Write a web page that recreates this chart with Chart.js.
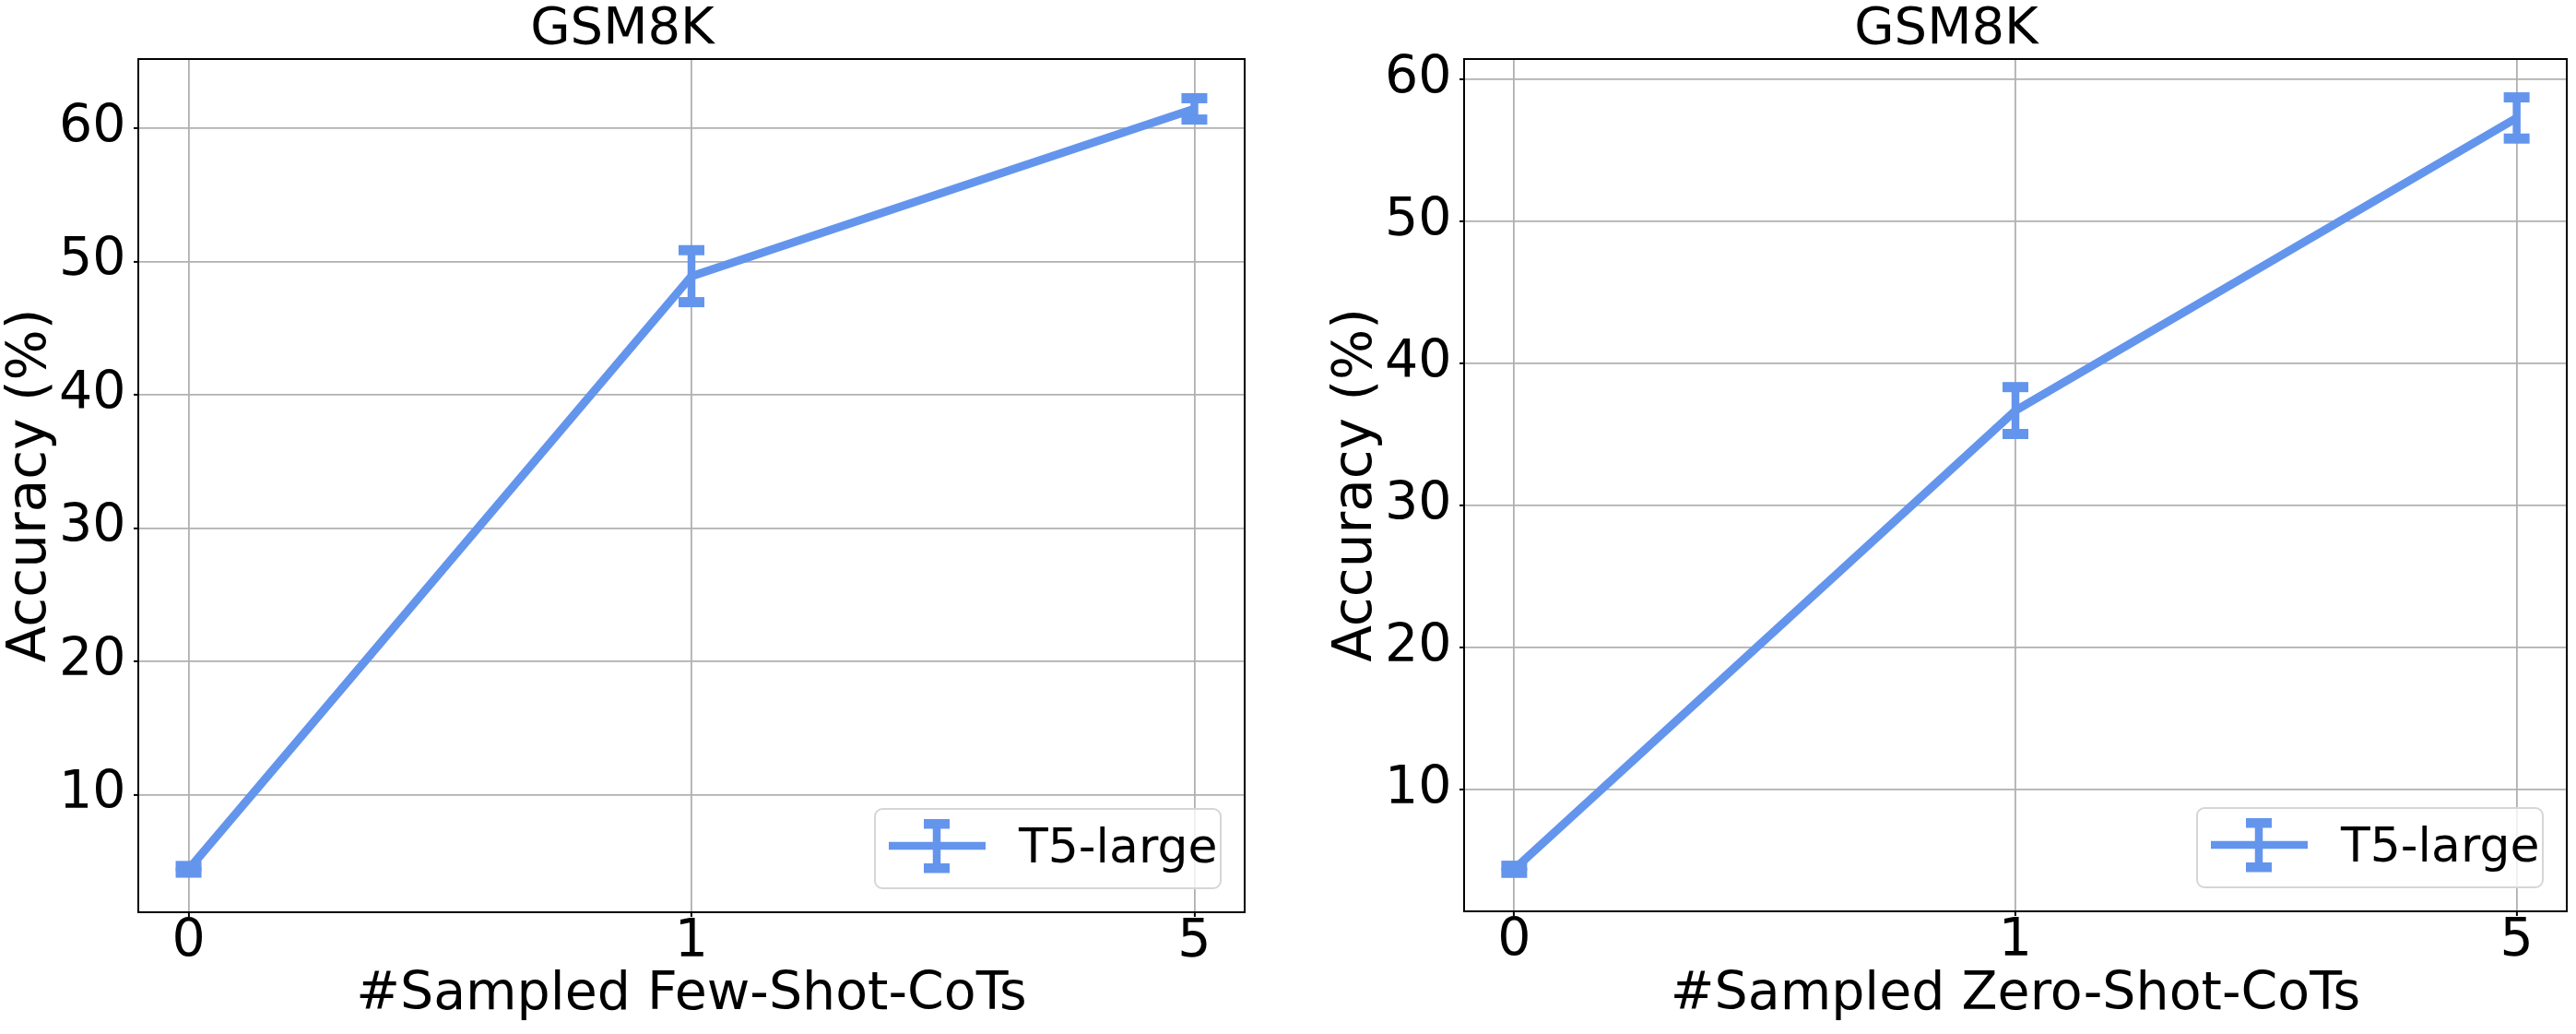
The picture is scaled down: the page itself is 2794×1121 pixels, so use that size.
<!DOCTYPE html>
<html>
<head>
<meta charset="utf-8">
<script src="https://cdn.jsdelivr.net/npm/chart.js@4"></script>
<style>
  html, body { margin: 0; padding: 0; background: #fff; overflow: hidden; width: 2794px; height: 1121px; }
  canvas { position: absolute; top: 0; }
  #left { left: 0; }
  #right { left: 1438px; }
</style>
</head>
<body>
<canvas id="left" width="1500" height="1121" style="width:1500px;height:1121px"></canvas>
<canvas id="right" width="1496" height="1121" style="width:1496px;height:1121px"></canvas>
<script>
// data
const xLabels = ['0', '1', '5'];
const yTicks = [10, 20, 30, 40, 50, 60];
const seriesName = 'T5-large';
const fewShotAcc = [4.4, 48.9, 61.45];
const fewShotErr = [0.25, 1.95, 0.8];
const zeroShotAcc = [4.4, 36.7, 57.3];
const zeroShotErr = [0.25, 1.65, 1.45];

const BLUE = '#6495ED';
const FONT = 'DejaVu Sans';

// error bars + frame + legend, all placed through the chart's scales
const extras = {
    id: 'extras',
    afterDatasetsDraw(chart) {
        const ctx = chart.ctx;
        const xs = chart.scales.x, ys = chart.scales.y;
        chart.data.datasets.forEach(ds => {
            ds.data.forEach((p, i) => {
                const e = ds.errors[i];
                const px = xs.getPixelForValue(p.x);
                const top = ys.getPixelForValue(p.y + e);
                const bot = ys.getPixelForValue(p.y - e);
                ctx.save();
                ctx.strokeStyle = ds.borderColor;
                ctx.fillStyle = ds.borderColor;
                ctx.lineWidth = 8.5;
                ctx.beginPath();
                ctx.moveTo(px, top);
                ctx.lineTo(px, bot);
                ctx.stroke();
                ctx.fillRect(px - 14, top - 5.5, 28, 11);
                ctx.fillRect(px - 14, bot - 5.5, 28, 11);
                ctx.restore();
            });
        });
    },
    afterDraw(chart) {
        const ctx = chart.ctx;
        const a = chart.chartArea;
        ctx.save();
        ctx.strokeStyle = '#000';
        ctx.lineWidth = 2;
        ctx.strokeRect(a.left, a.top, a.right - a.left, a.bottom - a.top);

        // legend, lower right
        const w = 375, h = 86;
        const lx = a.right - 26 - w, ly = a.bottom - 26 - h;
        ctx.beginPath();
        ctx.roundRect(lx, ly, w, h, 8);
        ctx.fillStyle = 'rgba(255,255,255,0.8)';
        ctx.fill();
        ctx.strokeStyle = '#d6d6d6';
        ctx.lineWidth = 2;
        ctx.stroke();

        const ds = chart.data.datasets[0];
        ctx.strokeStyle = ds.borderColor;
        ctx.fillStyle = ds.borderColor;
        ctx.lineWidth = 8.5;
        ctx.beginPath();
        ctx.moveTo(lx + 15, ly + 40);
        ctx.lineTo(lx + 120, ly + 40);
        ctx.moveTo(lx + 67, ly + 16);
        ctx.lineTo(lx + 67, ly + 64);
        ctx.stroke();
        ctx.fillRect(lx + 53, ly + 11, 28, 10.5);
        ctx.fillRect(lx + 53, ly + 59, 28, 10.5);

        ctx.fillStyle = '#000';
        ctx.font = '52px "' + FONT + '"';
        ctx.textBaseline = 'alphabetic';
        ctx.textAlign = 'left';
        ctx.fillText(ds.label, lx + 156, ly + 58);
        ctx.restore();
    }
};

function makeChart(id, acc, err, xTitle, yMin, yMax, xHeight) {
    new Chart(document.getElementById(id), {
        type: 'line',
        data: {
            datasets: [{
                label: seriesName,
                data: acc.map((v, i) => ({ x: i, y: v })),
                errors: err,
                borderColor: BLUE,
                backgroundColor: BLUE,
                borderWidth: 9,
                borderJoinStyle: 'round',
                pointRadius: 0,
                tension: 0
            }]
        },
        options: {
            responsive: false,
            animation: false,
            devicePixelRatio: 1,
            layout: { padding: { left: 0, right: 150, top: 0, bottom: 0 } },
            plugins: {
                legend: { display: false },
                tooltip: { enabled: false },
                title: {
                    display: true,
                    text: 'GSM8K',
                    color: '#000',
                    font: { family: FONT, size: 56, weight: 'normal', lineHeight: 1.125 },
                    padding: { top: 1, bottom: 0 }
                }
            },
            scales: {
                x: {
                    type: 'linear',
                    min: -0.1,
                    max: 2.1,
                    afterBuildTicks: s => { s.ticks = xLabels.map((_, i) => ({ value: i })); },
                    afterFit: s => { s.height = xHeight; },
                    grid: { color: '#b0b0b0', lineWidth: 1.8, tickColor: '#000', tickWidth: 2, tickLength: 5 },
                    border: { display: false },
                    ticks: {
                        callback: v => xLabels[v],
                        color: '#000',
                        font: { family: FONT, size: 57, lineHeight: 1.0 },
                        padding: 0,
                        maxRotation: 0,
                        autoSkip: false
                    },
                    title: {
                        display: true,
                        text: xTitle,
                        color: '#000',
                        font: { family: FONT, size: 57, lineHeight: 1.0 },
                        padding: { top: 0, bottom: 13 }
                    }
                },
                y: {
                    type: 'linear',
                    min: yMin,
                    max: yMax,
                    afterBuildTicks: s => { s.ticks = yTicks.map(v => ({ value: v })); },
                    afterFit: s => { s.width = 150; },
                    grid: { color: '#b0b0b0', lineWidth: 1.8, tickColor: '#000', tickWidth: 2, tickLength: 5 },
                    border: { display: false },
                    ticks: {
                        color: '#000',
                        font: { family: FONT, size: 57, lineHeight: 1.0 },
                        padding: 8.5,
                        autoSkip: false
                    },
                    title: {
                        display: true,
                        text: 'Accuracy (%)',
                        color: '#000',
                        font: { family: FONT, size: 58, lineHeight: 1.0 },
                        padding: { top: 5, bottom: 0 }
                    }
                }
            }
        },
        plugins: [extras]
    });
}

makeChart('left', fewShotAcc, fewShotErr, '#Sampled Few-Shot-CoTs', 1.18, 65.19, 132);
makeChart('right', zeroShotAcc, zeroShotErr, '#Sampled Zero-Shot-CoTs', 1.44, 61.45, 133);
</script>
</body>
</html>
